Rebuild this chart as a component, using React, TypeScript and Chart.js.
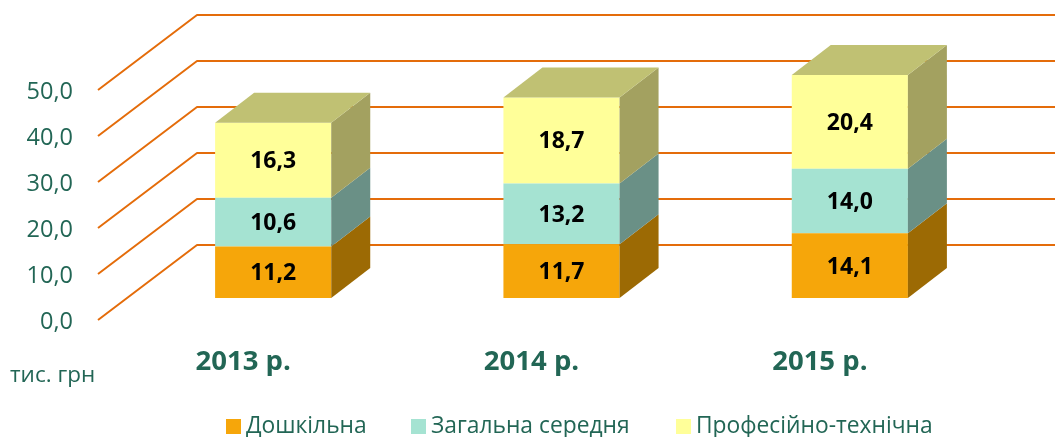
import React, { useEffect, useRef } from "react";
import { Chart, registerables } from "chart.js";

Chart.register(...registerables);

const categories = ["2013 р.", "2014 р.", "2015 р."];
const preschool = [11.2, 11.7, 14.1];
const secondary = [10.6, 13.2, 14.0];
const vocational = [16.3, 18.7, 20.4];
const seriesNames = ["Дошкільна", "Загальна середня", "Професійно-технічна"];
const frontColors = ["#F6A60A", "#A5E3D2", "#FFFF99"];
const sideColors = ["#9C6A04", "#6A9086", "#A3A160"];
const topColor = "#C0C173";
const gridColor = "#E46C0A";
const textColor = "#226655";
const unitLabel = "тис. грн";
const FONT = '"Open Sans", sans-serif';

const DEPTH_X = 39;
const DEPTH_Y = -30;
const WALL_LEFT = 98;
const WALL_X = 99;
const WALL_Y = -75;
const WALL_OFFSET = 22;
const TICK_OFFSET = 24;

const fmt = (v: number) => v.toFixed(1).replace(".", ",");

const wallPlugin = {
  id: "wall",
  beforeDatasetsDraw(chart: any) {
    const { ctx, scales } = chart;
    ctx.save();
    ctx.strokeStyle = gridColor;
    ctx.lineWidth = 2;
    ctx.lineJoin = "round";
    for (const t of scales.y.ticks) {
      const y = scales.y.getPixelForValue(t.value) + WALL_OFFSET;
      ctx.beginPath();
      ctx.moveTo(WALL_LEFT, y);
      ctx.lineTo(WALL_LEFT + WALL_X, y + WALL_Y);
      ctx.lineTo(chart.width, y + WALL_Y);
      ctx.stroke();
    }
    ctx.restore();
  },
};

const box3dPlugin = {
  id: "box3d",
  afterDatasetsDraw(chart: any) {
    const { ctx } = chart;
    ctx.save();
    chart.data.datasets.forEach((ds: any, di: number) => {
      chart.getDatasetMeta(di).data.forEach((bar: any) => {
        const r = bar.x + bar.width / 2;
        const l = bar.x - bar.width / 2;
        ctx.fillStyle = sideColors[di];
        ctx.beginPath();
        ctx.moveTo(r, bar.base);
        ctx.lineTo(r + DEPTH_X, bar.base + DEPTH_Y);
        ctx.lineTo(r + DEPTH_X, bar.y + DEPTH_Y);
        ctx.lineTo(r, bar.y);
        ctx.closePath();
        ctx.fill();
        if (di === chart.data.datasets.length - 1) {
          ctx.fillStyle = topColor;
          ctx.beginPath();
          ctx.moveTo(l, bar.y);
          ctx.lineTo(l + DEPTH_X, bar.y + DEPTH_Y);
          ctx.lineTo(r + DEPTH_X, bar.y + DEPTH_Y);
          ctx.lineTo(r, bar.y);
          ctx.closePath();
          ctx.fill();
        }
      });
    });
    // value labels
    ctx.fillStyle = "#000";
    ctx.font = `bold 23px ${FONT}`;
    ctx.textAlign = "center";
    ctx.textBaseline = "middle";
    chart.data.datasets.forEach((ds: any, di: number) => {
      chart.getDatasetMeta(di).data.forEach((bar: any, i: number) => {
        ctx.fillText(fmt(ds.data[i]), bar.x, (bar.y + bar.base) / 2 + 1.5);
      });
    });
    // unit label
    ctx.fillStyle = textColor;
    ctx.font = `22.5px ${FONT}`;
    ctx.textAlign = "left";
    ctx.fillText(unitLabel, 10, 376);
    // legend
    const legendX = [226, 411, 676];
    ctx.font = `22.8px ${FONT}`;
    chart.data.datasets.forEach((ds: any, di: number) => {
      ctx.fillStyle = ds.backgroundColor;
      ctx.fillRect(legendX[di], 419, 15, 15);
      ctx.fillStyle = textColor;
      ctx.fillText(ds.label, legendX[di] + 20, 427);
    });
    ctx.restore();
  },
};

export default function App() {
  const ref = useRef<HTMLCanvasElement>(null);
  useEffect(() => {
    const chart = new Chart(ref.current!, {
      type: "bar",
      data: {
        labels: categories,
        datasets: [preschool, secondary, vocational].map((data, i) => ({
          label: seriesNames[i],
          data,
          backgroundColor: frontColors[i],
          borderWidth: 0,
          barPercentage: 116 / 288,
          categoryPercentage: 1,
        })),
      },
      options: {
        responsive: false,
        animation: false,
        events: [],
        layout: { autoPadding: false, padding: { top: 68, right: 61, left: 0, bottom: 0 } },
        plugins: { legend: { display: false }, tooltip: { enabled: false }, title: { display: false } },
        scales: {
          x: {
            stacked: true,
            grid: { display: false, drawTicks: false },
            border: { display: false },
            ticks: {
              labelOffset: -30,
              padding: 48,
              color: textColor,
              maxRotation: 0,
              font: { family: "Open Sans", size: 27.5, weight: "bold" },
            },
            afterFit: (s: any) => { s.height = 139; },
          },
          y: {
            stacked: true,
            min: 0,
            max: 50,
            grid: { display: false, drawTicks: false },
            border: { display: false },
            ticks: {
              stepSize: 10,
              labelOffset: TICK_OFFSET,
              padding: 56,
              color: textColor,
              callback: (v: any) => fmt(Number(v)),
              font: { family: "Open Sans", size: 23.5 },
            },
            afterFit: (s: any) => { s.width = 129; s.paddingTop = 0; s.paddingBottom = 0; },
          },
        },
      },
      plugins: [wallPlugin, box3dPlugin],
    });
    return () => chart.destroy();
  }, []);
  return (
    <div style={{ position: "absolute", left: 0, top: 0, width: 1055, height: 437 }}>
      <canvas ref={ref} width={1055} height={437} style={{ display: "block" }} />
    </div>
  );
}
